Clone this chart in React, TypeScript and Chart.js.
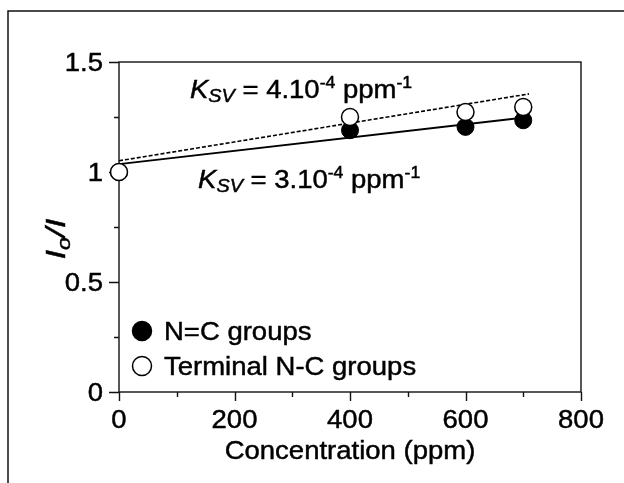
import React, { useEffect, useRef } from "react";
import { Chart, registerables } from "chart.js";
Chart.register(...registerables);

// ---- data ----
const concentrations = [0, 400, 600, 700];
const nEqCGroups = [1.0, 1.19, 1.205, 1.235];
const terminalNCGroups = [1.0, 1.25, 1.273, 1.295];
const fitX = [0, 710];
const fitNEqC = [1.036, 1.25];
const fitTerminal = [1.051, 1.355];
const xTickValues = [0, 200, 400, 600, 800];
const xMinorTicks = [100, 300, 500, 700];
const yTickValues = [0, 0.5, 1, 1.5];
const yTickLabels = ["0", "0.5", "1", "1.5"];
const yMinorTicks = [0.25, 0.75, 1.25];
const seriesLabels = ["N=C groups", "Terminal N-C groups"];
const ksvValues = ["4", "3"];
const ksvAnchorX = [123, 137];
const ksvAnchorY = [1.336, 0.927];
const xTitle = "Concentration (ppm)";

const FONT = "'Liberation Sans', Arial, sans-serif";
const SX = 1.1;
const FS = 25;

type Seg = { t: string; size: number; italic?: boolean; dy?: number };

function drawSegs(ctx: CanvasRenderingContext2D, segs: Seg[], x: number, y: number, align: "left" | "center" | "right", sx: number) {
  ctx.save();
  ctx.textBaseline = "alphabetic";
  ctx.textAlign = "left";
  let w = 0;
  for (const s of segs) {
    ctx.font = `${s.italic ? "italic " : ""}${s.size}px ${FONT}`;
    w += ctx.measureText(s.t).width;
  }
  let start = x;
  if (align === "center") start = x - (w * sx) / 2;
  if (align === "right") start = x - w * sx;
  ctx.translate(start, y);
  ctx.scale(sx, 1);
  ctx.lineWidth = 0.45;
  ctx.strokeStyle = ctx.fillStyle as string;
  let cx = 0;
  for (const s of segs) {
    ctx.font = `${s.italic ? "italic " : ""}${s.size}px ${FONT}`;
    ctx.fillText(s.t, cx, s.dy || 0);
    ctx.strokeText(s.t, cx, s.dy || 0);
    cx += ctx.measureText(s.t).width;
  }
  ctx.restore();
}

const decorPlugin = {
  id: "decor",
  beforeDatasetsDraw(chart: any) {
    const ctx: CanvasRenderingContext2D = chart.ctx;
    const { left, right, top, bottom } = chart.chartArea;
    const xs = chart.scales.x;
    const ys = chart.scales.y;
    ctx.save();
    ctx.strokeStyle = "#111";
    ctx.lineWidth = 1.5;
    ctx.beginPath();
    ctx.moveTo(624, 11);
    ctx.lineTo(8, 11);
    ctx.lineTo(8, 483);
    ctx.stroke();
    ctx.lineWidth = 1.4;
    ctx.strokeRect(left, top, right - left, bottom - top);
    ctx.beginPath();
    for (const v of xTickValues) {
      const px = Math.round(xs.getPixelForValue(v)) + 0.5;
      ctx.moveTo(px, bottom);
      ctx.lineTo(px, bottom + 9);
    }
    for (const v of xMinorTicks) {
      const px = Math.round(xs.getPixelForValue(v)) + 0.5;
      ctx.moveTo(px, bottom);
      ctx.lineTo(px, bottom + 5);
    }
    for (const v of yTickValues) {
      const py = Math.round(ys.getPixelForValue(v)) + 0.5;
      ctx.moveTo(left, py);
      ctx.lineTo(left - 10, py);
    }
    for (const v of yMinorTicks) {
      const py = Math.round(ys.getPixelForValue(v)) + 0.5;
      ctx.moveTo(left, py);
      ctx.lineTo(left - 5, py);
    }
    ctx.stroke();
    ctx.restore();
  },
  afterDraw(chart: any) {
    const ctx: CanvasRenderingContext2D = chart.ctx;
    const { left, bottom } = chart.chartArea;
    const xs = chart.scales.x;
    const ys = chart.scales.y;
    ctx.save();
    ctx.fillStyle = "#000";
    xTickValues.forEach((v) => {
      drawSegs(ctx, [{ t: String(v), size: FS }], xs.getPixelForValue(v), bottom + 36, "center", SX);
    });
    yTickValues.forEach((v, i) => {
      drawSegs(ctx, [{ t: yTickLabels[i], size: FS }], left - 16, ys.getPixelForValue(v) + 9, "right", SX);
    });
    drawSegs(ctx, [{ t: xTitle, size: FS }], (chart.chartArea.left + chart.chartArea.right) / 2, 459, "center", SX);
    ctx.save();
    ctx.translate(65, 239);
    ctx.rotate(-Math.PI / 2);
    drawSegs(ctx, [
      { t: "I", size: 28, italic: true },
      { t: "o", size: 19, italic: true, dy: 5 },
      { t: "/I", size: 28, italic: true },
    ], 0, 0, "center", 1.2);
    ctx.restore();
    ksvValues.forEach((k, i) => {
      drawSegs(ctx, [
        { t: "K", size: FS, italic: true },
        { t: "SV", size: 18, italic: true, dy: 4 },
        { t: ` = ${k}.10`, size: FS },
        { t: "-4", size: 16, dy: -10 },
        { t: " ppm", size: FS },
        { t: "-1", size: 16, dy: -10 },
      ], xs.getPixelForValue(ksvAnchorX[i]), ys.getPixelForValue(ksvAnchorY[i]), "left", SX);
    });
    const legendY = [331, 366];
    seriesLabels.forEach((lab, i) => {
      ctx.beginPath();
      ctx.arc(142, legendY[i], 9.5, 0, Math.PI * 2);
      ctx.fillStyle = i === 0 ? "#000" : "#fff";
      ctx.fill();
      ctx.lineWidth = 1.5;
      ctx.strokeStyle = "#000";
      ctx.stroke();
      ctx.fillStyle = "#000";
      drawSegs(ctx, [{ t: lab, size: FS }], 164, legendY[i] + 9, "left", SX);
    });
    ctx.restore();
  },
};

export default function App() {
  const ref = useRef<HTMLCanvasElement | null>(null);
  useEffect(() => {
    if (!ref.current) return;
    const pts = (xs: number[], ys: number[]) => xs.map((x, i) => ({ x, y: ys[i] }));
    const chart = new Chart(ref.current, {
      type: "scatter",
      data: {
        datasets: [
          {
            label: seriesLabels[1],
            data: pts(concentrations, terminalNCGroups),
            pointRadius: 8.5,
            pointBackgroundColor: "#fff",
            pointBorderColor: "#000",
            pointBorderWidth: 1.5,
            order: 0,
            clip: false as any,
          },
          {
            label: seriesLabels[0],
            data: pts(concentrations, nEqCGroups),
            pointRadius: 8.5,
            pointBackgroundColor: "#000",
            pointBorderColor: "#000",
            pointBorderWidth: 1,
            order: 1,
            clip: false as any,
          },
          {
            label: "fit terminal",
            data: pts(fitX, fitTerminal),
            showLine: true,
            pointRadius: 0,
            borderColor: "#000",
            borderWidth: 1.6,
            borderDash: [4, 2],
            order: 2,
            clip: false as any,
          },
          {
            label: "fit N=C",
            data: pts(fitX, fitNEqC),
            showLine: true,
            pointRadius: 0,
            borderColor: "#000",
            borderWidth: 1.8,
            order: 3,
            clip: false as any,
          },
        ],
      },
      options: {
        animation: false,
        responsive: true,
        maintainAspectRatio: false,
        layout: { padding: { left: 119, right: 43, top: 62, bottom: 91 } },
        plugins: { legend: { display: false }, tooltip: { enabled: false } },
        scales: {
          x: { type: "linear", min: 0, max: 800, display: false },
          y: { type: "linear", min: 0, max: 1.5, display: false },
        },
      },
      plugins: [decorPlugin],
    });
    return () => chart.destroy();
  }, []);
  return (
    <div style={{ position: "fixed", left: 0, top: 0, width: 624, height: 483, background: "#fff" }}>
      <canvas ref={ref} />
    </div>
  );
}
